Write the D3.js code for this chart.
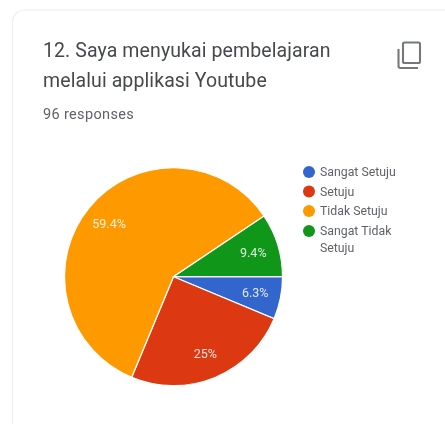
<!DOCTYPE html>
<html><head><meta charset="utf-8">
<script src="https://d3js.org/d3.v7.min.js"></script>
<style>html,body{margin:0;padding:0;background:#fff;overflow:hidden}svg{display:block;filter:blur(0.55px)}</style>
</head><body><div id="c"></div>
<script>
const categories=["Sangat Setuju","Setuju","Tidak Setuju","Sangat Tidak Setuju"];
const values=[6.3,25,59.4,9.4];
const valueLabels=["6.3%","25%","59.4%","9.4%"];
const colors=["#3366cc","#dc3912","#ff9900","#109618"];
const titleLines=["12. Saya menyukai pembelajaran","melalui applikasi Youtube"];
const subtitle="96 responses";
const legendLines=[["Sangat Setuju"],["Setuju"],["Tidak Setuju"],["Sangat Tidak","Setuju"]];

const font="Roboto, 'Noto Sans', sans-serif";
const svg=d3.select("#c").append("svg").attr("width",445).attr("height",424);
svg.append("path").attr("d","M12.5,424V22a12,12 0 0 1 12,-12H445").attr("fill","none").attr("stroke","#ecedf3").attr("stroke-width",1.2);

titleLines.forEach((t,i)=>svg.append("text").attr("x",43).attr("y",57+i*30).attr("font-family",font).attr("font-size",19.5).attr("fill","#46494c").attr("letter-spacing",0.1).text(t));
svg.append("text").attr("x",43).attr("y",119).attr("font-family",font).attr("font-size",14.5).attr("letter-spacing",0.35).attr("fill","#5f6368").text(subtitle);

// copy icon
const ic=svg.append("g").attr("fill","none").attr("stroke","#75787b").attr("stroke-width",2.1);
ic.append("rect").attr("x",403).attr("y",42.5).attr("width",17).attr("height",20.5).attr("rx",1.5);
ic.append("path").attr("d","M398.5,49V66a2,2 0 0 0 2,2H418");

const cx=173.5,cy=276.7,r=109;
const pie=d3.pie().value(d=>d).sort(null).startAngle(Math.PI/2).endAngle(Math.PI*2.5);
const arcs=pie(values);
const arc=d3.arc().innerRadius(0).outerRadius(r);
const g=svg.append("g").attr("transform",`translate(${cx},${cy})`);
g.selectAll("path").data(arcs).join("path").attr("d",arc).attr("fill",(d,i)=>colors[i]).attr("stroke","#fff").attr("stroke-width",1.2);
const labelArc=d3.arc().innerRadius(r*0.765).outerRadius(r*0.765);
g.selectAll("text").data(arcs).join("text")
 .attr("transform",d=>{const a=labelArc.centroid(d);return `translate(${a[0]},${a[1]})`;})
 .attr("text-anchor","middle").attr("dy","0.35em").attr("font-family",font).attr("font-size",12.5).attr("fill","#fff").attr("fill-opacity",0.85)
 .text((d,i)=>valueLabels[i]);

const legendY=d3.scaleOrdinal().domain(categories).range([172,191.5,211,231]);
categories.forEach((c,i)=>{
  const y=legendY(c);
  svg.append("circle").attr("cx",309).attr("cy",y).attr("r",6).attr("fill",colors[i]);
  legendLines[i].forEach((l,j)=>svg.append("text").attr("x",320).attr("y",y+4+j*16.5).attr("font-family",font).attr("font-size",12.3).attr("fill","#5f6368").text(l));
});
</script></body></html>
